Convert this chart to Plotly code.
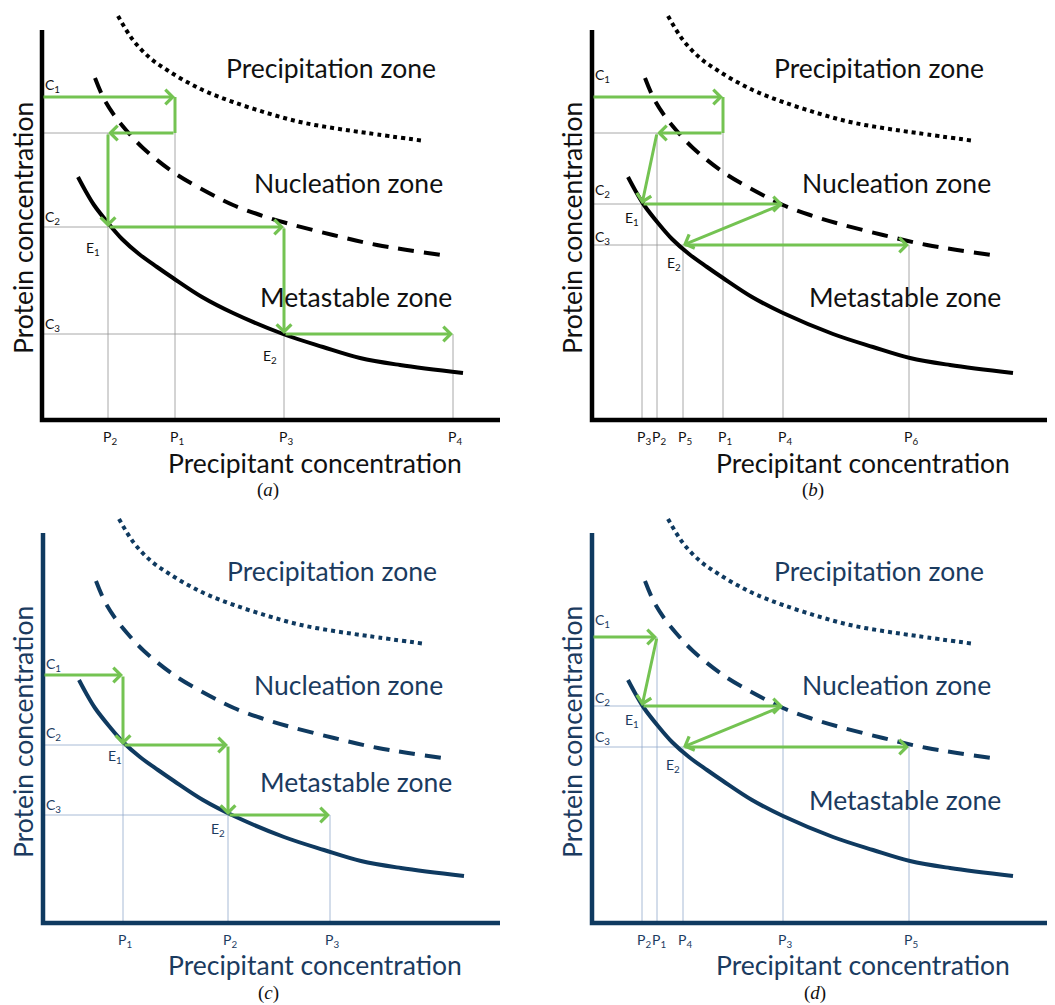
import plotly.graph_objects as go

# the page body adds an 8px margin, so the figure starts at (8, 8) of the window
OFF = 8
W, H = 1055 - OFF, 1005 - OFF

# ---------------- shared zone boundary curves (relative precipitant / protein units)
precip_x = [76, 91, 108, 125, 145, 165, 191, 225, 258, 291, 325, 383]
precip_y = [404, 380, 362, 350, 338, 328, 318, 307, 298, 292, 287, 279]
nucl_x = [53, 62, 72, 84, 101, 131, 165, 191, 218, 248, 291, 335, 400]
nucl_y = [342, 321, 305, 290, 272, 248, 228, 215, 205, 196, 185, 175, 165]
solub_x = [36, 43, 52, 66, 80, 97, 115, 131, 160, 191, 241, 281, 318, 358, 421]
solub_y = [243, 230, 215, 197, 181, 166, 153, 142, 123, 107, 86, 73, 62, 55, 47]

zone_names = ["Precipitation zone", "Nucleation zone", "Metastable zone"]
x_title = "Precipitant concentration"
y_title = "Protein concentration"

# ---------------- panel (a)
a_P = {"P1": 133, "P2": 66, "P3": 242, "P4": 411}
a_C = {"C1": 323, "Cm": 287, "C2": 193, "C3": 86}
a_path = [("O", "C1"), ("P1", "C1"), ("P1", "Cm"), ("P2", "Cm"), ("P2", "C2"),
          ("P3", "C2"), ("P3", "C3"), ("P4", "C3")]
a_heads = [1, 0, 1, 1, 1, 1, 1]
a_hguides = [("Cm", "P2"), ("C2", "P2"), ("C3", "P3")]
a_vguides = [("P2", "Cm"), ("P1", "Cm"), ("P3", "C2"), ("P4", "C3")]
a_E = {"E1": ("P2", "C2"), "E2": ("P3", "C3")}

# ---------------- panel (b)
b_P = {"P1": 131, "P2": 65, "P3": 50, "P4": 191, "P5": 91, "P6": 317}
b_C = {"C1": 323, "Cm": 287, "C2": 216, "C3": 175}
b_path = [("O", "C1"), ("P1", "C1"), ("P1", "Cm"), ("P2", "Cm"), ("P3", "C2"),
          ("P4", "C2"), ("P5", "C3"), ("P6", "C3")]
b_heads = [1, 0, 1, 1, 1, 1, 1]
b_hguides = [("Cm", "P2"), ("C2", "P3"), ("C3", "P5")]
b_vguides = [("P3", "C2"), ("P2", "Cm"), ("P5", "C3"), ("P1", "Cm"), ("P4", "C2"), ("P6", "C3")]
b_E = {"E1": ("P3", "C2"), "E2": ("P5", "C3")}

# ---------------- panel (c)
c_P = {"P1": 80, "P2": 185, "P3": 287}
c_C = {"C1": 248, "C2": 178, "C3": 108}
c_path = [("O", "C1"), ("P1", "C1"), ("P1", "C2"), ("P2", "C2"), ("P2", "C3"), ("P3", "C3")]
c_heads = [1, 1, 1, 1, 1]
c_hguides = [("C2", "P1"), ("C3", "P2")]
c_vguides = [("P1", "C2"), ("P2", "C3"), ("P3", "C3")]
c_E = {"E1": ("P1", "C2"), "E2": ("P2", "C3")}

# ---------------- panel (d)
d_P = {"P1": 65, "P2": 50, "P3": 191, "P4": 91, "P5": 317}
d_C = {"C1": 286, "C2": 217, "C3": 176}
d_path = [("O", "C1"), ("P1", "C1"), ("P2", "C2"), ("P3", "C2"), ("P4", "C3"), ("P5", "C3")]
d_heads = [1, 1, 1, 1, 1]
d_hguides = [("C2", "P2"), ("C3", "P4")]
d_vguides = [("P2", "C2"), ("P1", "C1"), ("P4", "C3"), ("P3", "C2"), ("P5", "C3")]
d_E = {"E1": ("P2", "C2"), "E2": ("P4", "C3")}

GREEN = "#74c352"
BLACK = dict(curve="#000000", text="#111111", guide="#939393")
NAVY = dict(curve="#0f3a60", text="#1b3b5f", guide="#93aacb")

panels = [
    dict(tag="a", P=a_P, C=a_C, path=a_path, heads=a_heads, hg=a_hguides, vg=a_vguides, E=a_E,
         ox=42, oy=420, box=(8, 527, 8, 500), col=BLACK, yaxis_top=390, xaxis_end=458,
         c_off={"C1": 12, "C2": 10, "C3": 10}, e_off={"E1": (-15, -21), "E2": (-14, -22)},
         zones=[(289, 352), (306, 237), (314, 123)], xt=(273, -43), yt=(-19, 192), lab=(226, -70)),
    dict(tag="b", P=b_P, C=b_C, path=b_path, heads=b_heads, hg=b_hguides, vg=b_vguides, E=b_E,
         ox=592, oy=420, box=(527, 1055, 8, 500), col=BLACK, yaxis_top=390, xaxis_end=463,
         c_off={"C1": 22, "C2": 14, "C3": 8}, e_off={"E1": (-10, -14), "E2": (-9, -18)},
         zones=[(287, 352), (304, 237), (313, 123)], xt=(271, -43), yt=(-20, 192), lab=(221, -70)),
    dict(tag="c", P=c_P, C=c_C, path=c_path, heads=c_heads, hg=c_hguides, vg=c_vguides, E=c_E,
         ox=43, oy=923, box=(8, 527, 500, 1005), col=NAVY, yaxis_top=390, xaxis_end=457,
         c_off={"C1": 11, "C2": 12, "C3": 10}, e_off={"E1": (-8, -11), "E2": (-10, -14)},
         zones=[(289, 352), (305, 238), (313, 141)], xt=(272, -42), yt=(-20, 191), lab=(225, -70)),
    dict(tag="d", P=d_P, C=d_C, path=d_path, heads=d_heads, hg=d_hguides, vg=d_vguides, E=d_E,
         ox=592, oy=923, box=(527, 1055, 500, 1005), col=NAVY, yaxis_top=390, xaxis_end=463,
         c_off={"C1": 17, "C2": 8, "C3": 10}, e_off={"E1": (-10, -14), "E2": (-10, -18)},
         zones=[(287, 352), (304, 238), (313, 123)], xt=(271, -42), yt=(-20, 191), lab=(223, -70)),
]

SANS = "Lato, 'Open Sans', sans-serif"
SERIF = "'Liberation Serif', 'DejaVu Serif', serif"
BIG = 26.5
SMALL = 14

fig = go.Figure()
annotations = []
layout_axes = {}

for i, p in enumerate(panels, start=1):
    xr = "x" if i == 1 else f"x{i}"
    yr = "y" if i == 1 else f"y{i}"
    xk = "xaxis" if i == 1 else f"xaxis{i}"
    yk = "yaxis" if i == 1 else f"yaxis{i}"
    x0, x1, y0, y1 = p["box"]
    layout_axes[xk] = dict(domain=[(x0 - OFF) / W, (x1 - OFF) / W],
                           range=[x0 - p["ox"], x1 - p["ox"]],
                           visible=False, anchor=yr, fixedrange=True)
    layout_axes[yk] = dict(domain=[(H + OFF - y1) / H, (H + OFF - y0) / H],
                           range=[p["oy"] - y1, p["oy"] - y0],
                           visible=False, anchor=xr, fixedrange=True)
    col = p["col"]
    P, C = p["P"], p["C"]

    def px(k):
        return 0 if k == "O" else P[k]

    # guide lines
    gx, gy = [], []
    for ck, pk in p["hg"]:
        gx += [0, P[pk], None]
        gy += [C[ck], C[ck], None]
    for pk, ck in p["vg"]:
        gx += [P[pk], P[pk], None]
        gy += [0, C[ck], None]
    fig.add_trace(go.Scatter(x=gx, y=gy, mode="lines", xaxis=xr, yaxis=yr,
                             line=dict(color=col["guide"], width=0.8), hoverinfo="skip", showlegend=False))

    # zone boundary curves
    fig.add_trace(go.Scatter(x=precip_x, y=precip_y, mode="lines", xaxis=xr, yaxis=yr,
                             line=dict(color=col["curve"], width=4, dash="dot", shape="spline"),
                             hoverinfo="skip", showlegend=False))
    fig.add_trace(go.Scatter(x=nucl_x, y=nucl_y, mode="lines", xaxis=xr, yaxis=yr,
                             line=dict(color=col["curve"], width=4, dash="16px,10px", shape="spline"),
                             hoverinfo="skip", showlegend=False))
    fig.add_trace(go.Scatter(x=solub_x, y=solub_y, mode="lines", xaxis=xr, yaxis=yr,
                             line=dict(color=col["curve"], width=4, shape="spline"),
                             hoverinfo="skip", showlegend=False))

    # axes (thick L)
    fig.add_trace(go.Scatter(x=[0, 0, p["xaxis_end"]], y=[p["yaxis_top"], 0, 0], mode="lines",
                             xaxis=xr, yaxis=yr, line=dict(color=col["curve"], width=4.5),
                             hoverinfo="skip", showlegend=False))

    # green path
    pts = [(px(a), C[b]) for a, b in p["path"]]
    for (sx, sy), (ex, ey), h in zip(pts[:-1], pts[1:], p["heads"]):
        if h:
            annotations.append(dict(x=ex, y=ey, ax=sx, ay=sy, xref=xr, yref=yr, axref=xr, ayref=yr,
                                    text="", showarrow=True, arrowhead=4, arrowsize=0.95,
                                    arrowwidth=3, arrowcolor=GREEN, standoff=0))
        else:
            fig.add_trace(go.Scatter(x=[sx, ex], y=[sy, ey], mode="lines", xaxis=xr, yaxis=yr,
                                     line=dict(color=GREEN, width=3), hoverinfo="skip",
                                     showlegend=False))

    tfont = dict(family=SANS, color=col["text"])
    # C labels
    for ck, off in p["c_off"].items():
        annotations.append(dict(x=10, y=C[ck] + off, xref=xr, yref=yr, showarrow=False,
                                text=f"{ck[0]}<sub>{ck[1]}</sub>", xanchor="center", yanchor="middle",
                                font=dict(tfont, size=SMALL)))
    # P labels
    for pk, val in P.items():
        annotations.append(dict(x=val + 2, y=-17, xref=xr, yref=yr, showarrow=False,
                                text=f"{pk[0]}<sub>{pk[1]}</sub>", xanchor="center", yanchor="middle",
                                font=dict(tfont, size=SMALL)))
    # E labels
    for ek, (pk, ck) in p["E"].items():
        dx, dy = p["e_off"][ek]
        annotations.append(dict(x=P[pk] + dx, y=C[ck] + dy, xref=xr, yref=yr, showarrow=False,
                                text=f"{ek[0]}<sub>{ek[1]}</sub>", xanchor="center", yanchor="middle",
                                font=dict(tfont, size=SMALL)))
    # zone labels
    for name, (zx, zy) in zip(zone_names, p["zones"]):
        annotations.append(dict(x=zx, y=zy, xref=xr, yref=yr, showarrow=False, text=name,
                                xanchor="center", yanchor="middle", font=dict(tfont, size=BIG)))
    # axis titles
    annotations.append(dict(x=p["xt"][0], y=p["xt"][1], xref=xr, yref=yr, showarrow=False, text=x_title,
                            xanchor="center", yanchor="middle", font=dict(tfont, size=BIG)))
    annotations.append(dict(x=p["yt"][0], y=p["yt"][1], xref=xr, yref=yr, showarrow=False, text=y_title,
                            textangle=-90, xanchor="center", yanchor="middle", font=dict(tfont, size=BIG)))
    annotations.append(dict(x=p["lab"][0], y=p["lab"][1], xref=xr, yref=yr, showarrow=False,
                            text=f"(<i>{p['tag']}</i>)", xanchor="center", yanchor="middle",
                            font=dict(family=SERIF, size=19, color="#111111")))

fig.update_layout(width=W, height=H, margin=dict(l=0, r=0, t=0, b=0),
                  paper_bgcolor="white", plot_bgcolor="rgba(0,0,0,0)",
                  showlegend=False, annotations=annotations, **layout_axes)

fig.write_html("out.html")
